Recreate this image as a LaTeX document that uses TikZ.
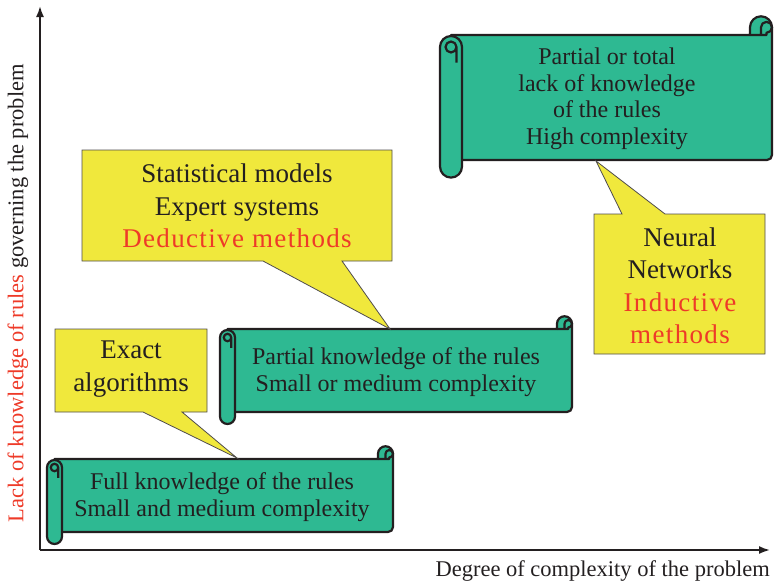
\documentclass[tikz,border=0pt]{standalone}
\usepackage{fontspec}
\setmainfont{Liberation Serif}
\usetikzlibrary{arrows.meta}
\definecolor{scrollgreen}{RGB}{46,185,146}
\definecolor{calloutyellow}{RGB}{240,232,60}
\definecolor{accentred}{RGB}{238,58,40}
\definecolor{inkdark}{RGB}{35,31,32}
\newcommand\redsp[1]{{\color{accentred}\addfontfeature{LetterSpace=5}#1}}
% #1 L, #2 T, #3 R, #4 B, #5 w
\newcommand\drawscroll[5]{%
  \pgfmathsetmacro\hw{#5/2}%
  \pgfmathsetmacro\qw{#5/4}%
  \pgfmathsetmacro\ch{#5*0.85}%
  \pgfmathsetmacro\rb{#4+#5*0.8}%
  \draw[scrollline,fill=scrollgreen]
    ({#1+\hw},{#2}) -- ({#3-#5},{#2}) -- ({#3-#5},{#2-\ch+\hw})
    arc[start angle=180,end angle=360,radius=\hw]
    -- ({#3},{#4-5}) arc[start angle=0,end angle=90,radius=5]
    -- ({#1+\hw},{#4}) -- cycle;
  \draw[scrollline] ({#3-\hw},{#2}) -- ({#3-\hw},{#2-\ch+\hw})
    arc[start angle=180,end angle=450,radius=\qw] -- ({#3-\qw},{#2}) -- ({#3-#5},{#2});
  \draw[scrollline,fill=scrollgreen,rounded corners=\hw pt]
    ({#1},{#2+1}) rectangle ({#1+#5},{\rb});
  \draw[scrollline] ({#1+\hw+\qw},{#2+#5*1.25}) -- ({#1+\hw+\qw},{#2+\hw+1})
    arc[start angle=0,end angle=-360,radius=\qw];
}
\begin{document}
\begin{tikzpicture}[x=1pt,y=-1pt,
  scrollline/.style={draw=inkdark,line width=2.2pt,line join=round},
  scrolltext/.style={align=center,text=inkdark,font=\fontsize{24}{26.5}\selectfont,inner sep=0pt},
  callout/.style={fill=calloutyellow,draw=inkdark!80,line width=0.8pt,line join=miter},
  callouttext/.style={align=center,text=inkdark,font=\fontsize{27}{32.5}\selectfont,inner sep=0pt},
  axis/.style={draw=inkdark,line width=1.8pt,-{Latex[length=11pt,width=8pt]}},
  axislabel/.style={text=inkdark,font=\fontsize{22.5}{26}\selectfont,inner sep=0pt}]
\useasboundingbox (0,0) rectangle (774,584);

% axes
\coordinate (origin) at (40,550);
\coordinate (ytip) at (40,6);
\coordinate (xtip) at (770,550);
\draw[axis] (origin) -- (ytip);
\draw[axis] (origin) -- (xtip);
\node[axislabel,anchor=base east] (xlabel) at (770,576) {Degree of complexity of the problem};
\node[axislabel,rotate=90] (ylabel) at (18,293) {{\color{accentred}Lack of knowledge of rules} governing the problem};

% scrolls
\drawscroll{47}{459}{393}{532}{15}
\drawscroll{220}{329}{572}{412}{15}
\drawscroll{440}{35}{772}{160}{22}
\node[scrolltext] (s1) at (222,497) {Full knowledge of the rules\\Small and medium complexity};
\node[scrolltext] (s2) at (396,372) {Partial knowledge of the rules\\Small or medium complexity};
\node[scrolltext] (s3) at (607,99) {Partial or total\\lack of knowledge\\of the rules\\High complexity};

% callouts
\coordinate (c1tip) at (237,458);
\coordinate (c2tip) at (390,329);
\coordinate (c3tip) at (596,161);
\path[callout] (55,329) -- (207,329) -- (207,412) -- (182,412) -- (c1tip) -- (143,412) -- (55,412) -- cycle;
\path[callout] (82,150) -- (392,150) -- (392,261) -- (342,261) -- (c2tip) -- (263,261) -- (82,261) -- cycle;
\path[callout] (594,214) -- (622,214) -- (c3tip) -- (665,214) -- (765,214) -- (765,354) -- (594,354) -- cycle;
\node[callouttext] (c1) at (131,369) {Exact\\algorithms};
\node[callouttext] (c2) at (237,206) {Statistical models\\Expert systems\\\redsp{Deductive methods}};
\node[callouttext] (c3) at (680,286) {Neural\\Networks\\\redsp{Inductive}\\\redsp{methods}};
\end{tikzpicture}
\end{document}
